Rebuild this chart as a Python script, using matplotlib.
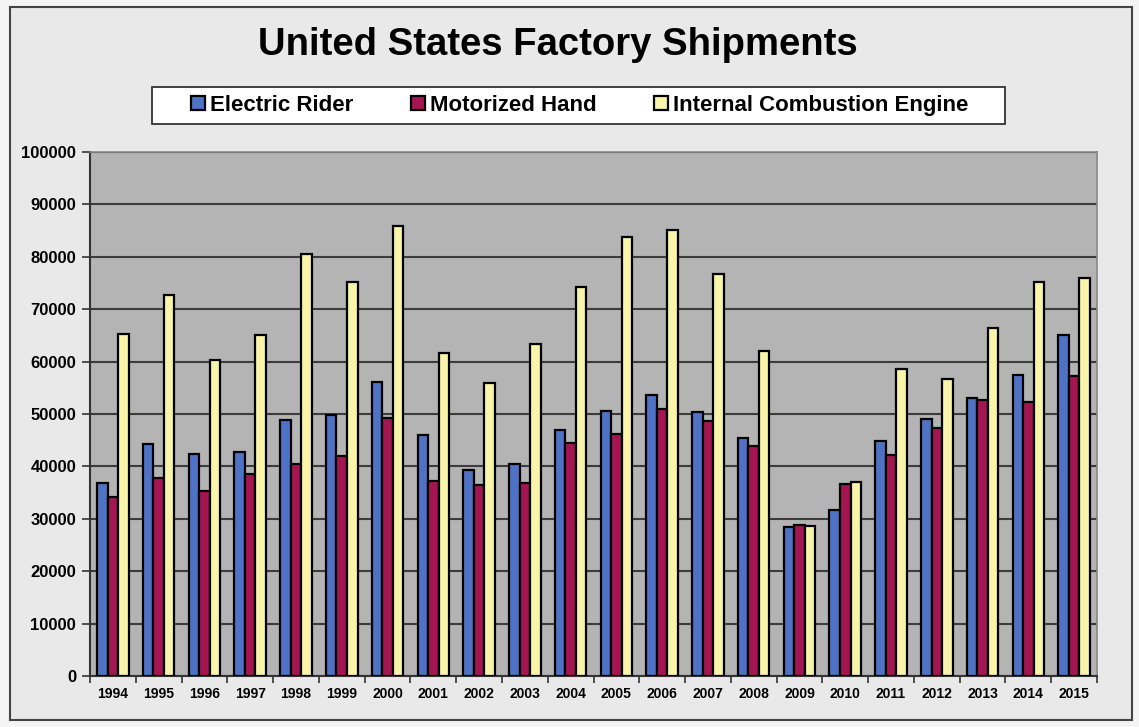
import matplotlib
matplotlib.use("Agg")
import matplotlib.pyplot as plt
import numpy as np
from matplotlib.patches import Rectangle

years = ["1994", "1995", "1996", "1997", "1998", "1999", "2000", "2001", "2002", "2003", "2004",
         "2005", "2006", "2007", "2008", "2009", "2010", "2011", "2012", "2013", "2014", "2015"]
electric_rider = [36800, 44200, 42400, 42800, 48900, 49900, 56200, 45900, 39400, 40500, 47000,
                  50500, 53700, 50300, 45400, 28400, 31700, 44800, 49100, 53000, 57500, 65100]
motorized_hand = [34100, 37800, 35400, 38600, 40500, 41900, 49300, 37200, 36500, 36800, 44400,
                  46200, 51000, 48600, 43800, 28800, 36700, 42100, 47400, 52600, 52300, 57200]
ice_engine = [65200, 72800, 60400, 65000, 80600, 75100, 85900, 61600, 56000, 63400, 74300,
              83800, 85100, 76700, 62100, 28700, 37000, 58500, 56700, 66500, 75100, 76000]

series = [("Electric Rider", electric_rider, "#4f72c4"),
          ("Motorized Hand", motorized_hand, "#a31652"),
          ("Internal Combustion Engine", ice_engine, "#f8f4aa")]

plt.rcParams['font.family'] = ['Liberation Sans', 'DejaVu Sans']

W, H = 1139, 727
fig = plt.figure(figsize=(W / 100, H / 100), dpi=100)
fig.patch.set_facecolor("#f4f4f4")

# outer chart frame
fig.patches.append(Rectangle((10 / W, 7 / H), 1122 / W, 713 / H,
                             transform=fig.transFigure, facecolor="#e9e9e9",
                             edgecolor="#444444", linewidth=1.5, zorder=-2))
# legend box
fig.patches.append(Rectangle((152 / W, (H - 124) / H), 853 / W, 37 / H,
                             transform=fig.transFigure, facecolor="white",
                             edgecolor="#333333", linewidth=1.3, zorder=-1))

ax = fig.add_axes([90 / W, 51 / H, 1007 / W, 524 / H])
ax.set_facecolor("#b4b4b4")

x = np.arange(len(years))
w = 0.23
handles = []
for i, (name, vals, col) in enumerate(series):
    b = ax.bar(x + (i - 1) * w, vals, w, color=col, edgecolor="black", linewidth=1.6,
               label=name, zorder=3)
    handles.append(b)

ax.set_xlim(-0.5, len(years) - 0.5)
ax.set_ylim(0, 100000)
ax.set_yticks(np.arange(0, 100001, 10000))
ax.yaxis.grid(True, color="#3c3c3c", linewidth=1.5, zorder=1)
ax.set_axisbelow(True)

ax.set_xticks(np.arange(-0.5, len(years), 1.0))
ax.set_xticklabels([])
ax.set_xticks(x, minor=True)
ax.set_xticklabels(years, minor=True, fontsize=10, fontweight="bold")
ax.tick_params(axis="x", which="minor", length=0, pad=8)
ax.tick_params(axis="x", which="major", length=5, color="#333333", width=1.2)
ax.tick_params(axis="y", length=6, color="#333333", width=1.2, labelsize=12, pad=4)
for lab in ax.get_yticklabels():
    lab.set_fontweight("bold")

for s in ["left", "bottom"]:
    ax.spines[s].set_color("#333333")
    ax.spines[s].set_linewidth(1.5)
for s in ["top", "right"]:
    ax.spines[s].set_color("#888888")
    ax.spines[s].set_linewidth(1.2)

fig.text(0.49, 0.938, "United States Factory Shipments", ha="center", va="center",
         fontsize=27.5, fontweight="bold")

leg = fig.legend(handles=handles, loc="center", bbox_to_anchor=(580 / W, (H - 105.5) / H),
                 ncol=3, frameon=False, prop={"size": 16, "weight": "bold"},
                 handlelength=0.6, handleheight=0.6, handletextpad=0.25,
                 columnspacing=2.6, borderaxespad=0)

fig.savefig("out.png", dpi=100, facecolor=fig.get_facecolor())
